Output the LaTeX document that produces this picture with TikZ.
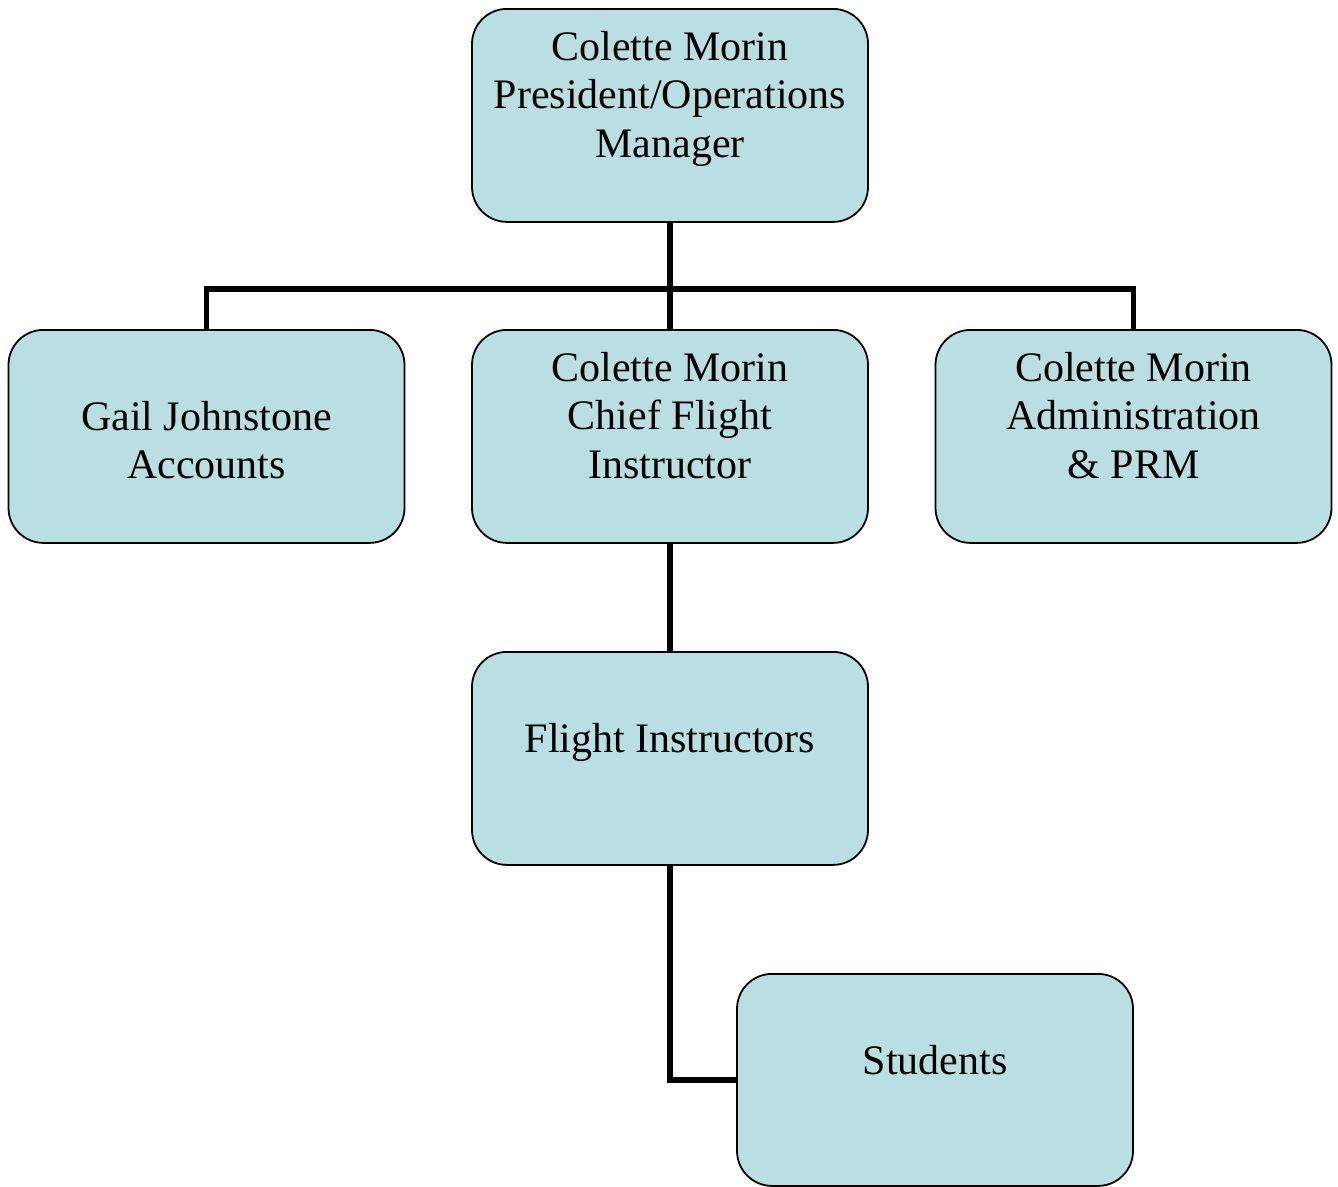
\documentclass[tikz,border=0pt]{standalone}
\usepackage{fontspec}
\setmainfont{Liberation Serif}
\usetikzlibrary{backgrounds}
\definecolor{boxfill}{RGB}{185,223,227}
\newcommand{\boxtext}[1]{\begin{tabular}[t]{@{}c@{}}#1\end{tabular}}
\tikzset{
  orgbox/.style={draw=black, line width=1.8pt, fill=boxfill, rounded corners=35pt,
    minimum width=396pt, minimum height=213pt, inner sep=0pt, anchor=north},
  orgtext/.style={anchor=base, inner sep=0pt, font=\fontsize{42}{48.5}\selectfont},
  link/.style={draw=black, line width=5.8pt, line join=miter}
}
\begin{document}
\begin{tikzpicture}[x=1pt,y=-1pt]
\useasboundingbox (0,0) rectangle (1338,1186);
% boxes
\node[orgbox] (top) at (670,8) {};
\node[orgbox] (gail) at (206.5,329) {};
\node[orgbox] (chief) at (670,329) {};
\node[orgbox] (admin) at (1133.5,329) {};
\node[orgbox] (fi) at (670,651) {};
\node[orgbox, minimum height=212pt] (stud) at (935,973) {};
% texts
\node[orgtext] (ttop) at (670,60) {\boxtext{Colette Morin\\President/Operations\\Manager}};
\node[orgtext] (tgail) at (206.5,430) {\boxtext{Gail Johnstone\\Accounts}};
\node[orgtext] (tchief) at (670,381) {\boxtext{Colette Morin\\Chief Flight\\Instructor}};
\node[orgtext] (tadmin) at (1133.5,381) {\boxtext{Colette Morin\\Administration\\\& PRM}};
\node[orgtext] (tfi) at (670,752) {\boxtext{Flight Instructors}};
\node[orgtext] (tstud) at (935,1074) {\boxtext{Students}};
% connectors
\begin{scope}[on background layer]
\coordinate (bus) at (670,289);
\draw[link] (top.south) -- (chief.north);
\draw[link] (gail.north) |- (bus) -| (admin.north);
\draw[link] (chief.south) -- (fi.north);
\draw[link] (fi.south) |- (stud.west);
\end{scope}
\end{tikzpicture}
\end{document}
